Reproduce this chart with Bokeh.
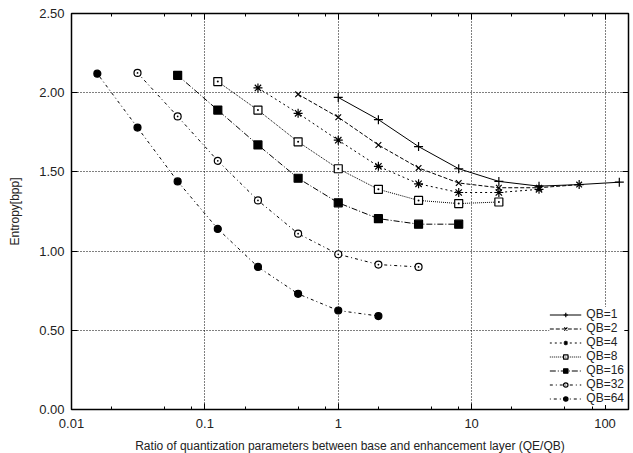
from bokeh.plotting import figure
from bokeh.models import (Range1d, FixedTicker, PrintfTickFormatter, LogAxis, LinearAxis,
                          Legend, LegendItem)
from bokeh.embed import file_html
from bokeh.resources import INLINE

# ---- data ----
series_labels = ["QB=1", "QB=2", "QB=4", "QB=8", "QB=16", "QB=32", "QB=64"]
qb1_x = [1, 2, 4, 8, 16, 32, 64, 128]
qb1_y = [1.97, 1.83, 1.66, 1.52, 1.44, 1.41, 1.42, 1.435]
qb2_x = [0.5, 1, 2, 4, 8, 16, 32, 64]
qb2_y = [1.99, 1.845, 1.67, 1.525, 1.43, 1.40, 1.40, 1.42]
qb4_x = [0.25, 0.5, 1, 2, 4, 8, 16, 32]
qb4_y = [2.03, 1.87, 1.70, 1.535, 1.425, 1.37, 1.37, 1.39]
qb8_x = [0.125, 0.25, 0.5, 1, 2, 4, 8, 16]
qb8_y = [2.07, 1.89, 1.69, 1.52, 1.39, 1.32, 1.30, 1.31]
qb16_x = [0.0625, 0.125, 0.25, 0.5, 1, 2, 4, 8]
qb16_y = [2.11, 1.89, 1.67, 1.46, 1.305, 1.205, 1.17, 1.17]
qb32_x = [0.03125, 0.0625, 0.125, 0.25, 0.5, 1, 2, 4]
qb32_y = [2.125, 1.85, 1.57, 1.32, 1.11, 0.98, 0.915, 0.90]
qb64_x = [0.015625, 0.03125, 0.0625, 0.125, 0.25, 0.5, 1, 2]
qb64_y = [2.12, 1.78, 1.44, 1.14, 0.90, 0.73, 0.625, 0.59]

x_ticks = [0.01, 0.1, 1, 10, 100]
x_tick_labels = ["0.01", "0.1", "1", "10", "100"]
x_minor = [m * d for d in [0.01, 0.1, 1, 10] for m in (2, 5, 8)]
y_ticks = [0.0, 0.5, 1.0, 1.5, 2.0, 2.5]

FONT = "Liberation Sans"

p = figure(width=630, height=450, x_axis_type="log",
           x_range=Range1d(0.01, 150), y_range=Range1d(0, 2.5),
           output_backend="svg", toolbar_location=None,
           min_border_left=71, min_border_right=2, min_border_top=13, min_border_bottom=41)
p.frame_width = 557
p.frame_height = 396
p.background_fill_color = "white"
p.outline_line_color = "black"
p.outline_line_width = 1.5

xt = FixedTicker(ticks=x_ticks, minor_ticks=x_minor)
yt = FixedTicker(ticks=y_ticks, minor_ticks=[])

def style_axis(ax, labels=True):
    ax.axis_line_color = "black"
    ax.major_tick_in = 6
    ax.major_tick_out = 0
    ax.minor_tick_in = 3
    ax.minor_tick_out = 0
    ax.major_tick_line_color = "black"
    ax.minor_tick_line_color = "black"
    ax.major_label_text_font = FONT
    ax.major_label_text_font_size = "13px"
    ax.major_label_text_color = "#222222"
    ax.axis_label_text_font = FONT
    ax.axis_label_text_font_size = "12px"
    ax.axis_label_text_font_style = "normal"
    ax.axis_label_text_color = "#222222"
    if not labels:
        ax.major_label_text_font_size = "0px"

xa = p.xaxis[0]
xa.ticker = xt
xa.major_label_overrides = {t: l for t, l in zip(x_ticks, x_tick_labels)}
xa.axis_label = "Ratio of quantization parameters between base and enhancement layer (QE/QB)"
xa.major_label_standoff = 9
xa.axis_label_standoff = 8
style_axis(xa)

ya = p.yaxis[0]
ya.ticker = yt
ya.formatter = PrintfTickFormatter(format="%.2f")
ya.axis_label = "Entropy[bpp]"
ya.major_label_standoff = 7
ya.axis_label_standoff = 14
style_axis(ya)

top = LogAxis(ticker=xt)
style_axis(top, labels=False)
top.major_label_overrides = {t: "" for t in x_ticks}
p.add_layout(top, "above")
right = LinearAxis(ticker=yt)
style_axis(right, labels=False)
right.major_label_overrides = {t: "" for t in y_ticks}
p.add_layout(right, "right")

p.xgrid.ticker = xt
p.ygrid.ticker = yt
for g in (p.xgrid, p.ygrid):
    g.grid_line_color = "black"
    g.grid_line_dash = "1 2"
    g.grid_line_width = 1
    g.minor_grid_line_color = None

series = [
    (qb1_x, qb1_y, "solid", "cross", "black", 9),
    (qb2_x, qb2_y, "4 2", "x", "black", 8),
    (qb4_x, qb4_y, "2 3", "asterisk", "black", 9),
    (qb8_x, qb8_y, "1 1", "square_dot", "white", 8),
    (qb16_x, qb16_y, "6 2 1 2", "square", "black", 8),
    (qb32_x, qb32_y, "3 3 1 3", "circle_dot", "white", 7),
    (qb64_x, qb64_y, "1 3 3 3", "circle", "black", 7),
]

items = []
for (xs, ys, dash, mk, fill, sz), lab in zip(series, series_labels):
    r1 = p.line(xs, ys, line_color="black", line_width=1, line_dash=dash)
    r2 = p.scatter(xs, ys, marker=mk, size=sz, line_color="black",
                   fill_color=fill, line_width=1.2)
    items.append(LegendItem(label=lab, renderers=[r1, r2]))

leg = Legend(items=items, location="bottom_right")
leg.label_text_font = FONT
leg.label_text_font_size = "12px"
leg.label_text_color = "#222222"
leg.glyph_width = 32
leg.glyph_height = 11
leg.label_height = 11
leg.spacing = 0
leg.padding = 3
leg.margin = 4
leg.border_line_color = None
leg.background_fill_color = "white"
leg.background_fill_alpha = 1.0
p.add_layout(leg)

open("out.html", "w").write(file_html(p, INLINE))
